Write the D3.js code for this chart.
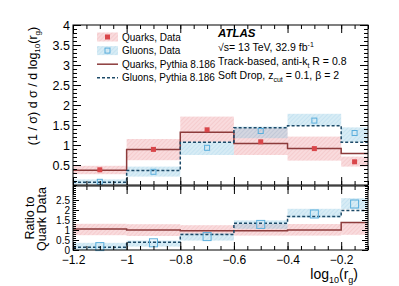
<!DOCTYPE html>
<meta charset="utf-8">
<script src="https://d3js.org/d3.v7.min.js"></script>
<style>
  body { margin: 0; background: #fff; }
  text { font-family: "Liberation Sans", Arial, sans-serif; }
</style>
<div id="chart"></div>
<script>

// bin edges in log10(r_g)
var edges = [-1.2, -1.0, -0.8, -0.6, -0.4, -0.2, -0.1];

// upper panel
var quarkData   = [0.38, 0.89, 1.38, 1.08, 0.91, 0.58];
var quarkUp     = [0.48, 1.15, 1.71, 1.42, 1.21, 0.71];
var quarkLo     = [0.27, 0.62, 1.08, 0.75, 0.61, 0.46];
var quarkMC     = [0.37, 0.89, 1.32, 1.04, 0.91, 0.79];
var gluonData   = [0.08, 0.33, 0.93, 1.35, 1.61, 1.30];
var gluonUp     = [0.14, 0.46, 1.08, 1.46, 1.78, 1.44];
var gluonLo     = [0.02, 0.21, 0.75, 1.17, 1.48, 1.08];
var gluonMC     = [0.07, 0.36, 1.07, 1.43, 1.48, 1.07];

// ratio panel
var qRatioUp    = [1.31, 1.29, 1.24, 1.30, 1.30, 1.36];
var qRatioLo    = [0.74, 0.70, 0.78, 0.72, 0.72, 0.76];
var qRatioMC    = [1.05, 1.00, 0.96, 0.96, 1.00, 1.37];
var gRatio      = [0.17, 0.36, 0.67, 1.28, 1.80, 2.30];
var gRatioUp    = [0.36, 0.47, 0.84, 1.48, 2.06, 2.59];
var gRatioLo    = [0.00, 0.17, 0.47, 1.06, 1.62, 2.04];
var gRatioMC    = [0.14, 0.39, 0.77, 1.34, 1.68, 1.97];

var xTicks = [-1.2, -1.0, -0.8, -0.6, -0.4, -0.2];
var yTopTicks = [0.5, 1, 1.5, 2, 2.5, 3, 3.5, 4];
var yBotTicks = [0, 0.5, 1, 1.5, 2, 2.5];

var W = 399, H = 286;
var left = 73, right = 368;

var svg = d3.select("#chart").append("svg")
  .attr("width", W).attr("height", H);

var x = d3.scaleLinear().domain([-1.2, -0.1]).range([left, right]);
var yTop = d3.scaleLinear().domain([0, 4]).range([185, 25]);
var yBot = d3.scaleLinear().domain([0, 3.2]).range([250, 186]);

// hatch patterns for uncertainty bands
var defs = svg.append("defs");
function hatch(id, bg, line) {
  var p = defs.append("pattern").attr("id", id)
    .attr("patternUnits", "userSpaceOnUse")
    .attr("width", 3).attr("height", 3)
    .attr("patternTransform", "rotate(45)");
  p.append("rect").attr("width", 3).attr("height", 3).attr("fill", bg);
  p.append("line").attr("x1", 0).attr("y1", 0).attr("x2", 0).attr("y2", 3)
    .attr("stroke", line).attr("stroke-width", 1);
}
hatch("hRed", "rgba(240,160,165,0.38)", "rgba(225,120,125,0.30)");
hatch("hBlue", "rgba(150,205,230,0.38)", "rgba(110,180,215,0.30)");

var redC = "#d9464a", redLine = "#8c3b3b";
var blueC = "#5aaedc", blueLine = "#1d4a68";

function steps(vals) {
  var pts = [];
  vals.forEach(function(v, i) {
    pts.push([edges[i], v]);
    pts.push([edges[i + 1], v]);
  });
  return pts;
}

function drawPanel(y, bands, lines, markers, size) {
  var g = svg.append("g");
  bands.forEach(function(b) {
    g.selectAll(null).data(b.lo).enter().append("rect")
      .attr("x", function(d, i) { return x(edges[i]); })
      .attr("width", function(d, i) { return x(edges[i + 1]) - x(edges[i]); })
      .attr("y", function(d, i) { return y(b.up[i]); })
      .attr("height", function(d, i) { return y(d) - y(b.up[i]); })
      .attr("fill", b.fill);
  });
  lines.forEach(function(l) {
    var line = d3.line().x(function(d) { return x(d[0]); }).y(function(d) { return y(d[1]); });
    g.append("path").attr("d", line(steps(l.vals)))
      .attr("fill", "none").attr("stroke", l.color).attr("stroke-width", 1.5)
      .attr("stroke-dasharray", l.dash || null);
  });
  markers.forEach(function(m) {
    g.selectAll(null).data(m.vals).enter().append("rect")
      .attr("x", function(d, i) { return x((edges[i] + edges[i + 1]) / 2) - size / 2; })
      .attr("y", function(d) { return y(d) - size / 2; })
      .attr("width", size).attr("height", size)
      .attr("fill", m.filled ? m.color : "none")
      .attr("stroke", m.filled ? "none" : m.color)
      .attr("stroke-width", 1);
  });
}

drawPanel(yTop,
  [{lo: quarkLo, up: quarkUp, fill: "url(#hRed)"}, {lo: gluonLo, up: gluonUp, fill: "url(#hBlue)"}],
  [{vals: quarkMC, color: redLine}, {vals: gluonMC, color: blueLine, dash: "3,2"}],
  [{vals: quarkData, color: redC, filled: true}, {vals: gluonData, color: blueC}], 5);

drawPanel(yBot,
  [{lo: qRatioLo, up: qRatioUp, fill: "url(#hRed)"}, {lo: gRatioLo, up: gRatioUp, fill: "url(#hBlue)"}],
  [{vals: qRatioMC, color: redLine}, {vals: gRatioMC, color: blueLine, dash: "3,2"}],
  [{vals: gRatio, color: blueC}], 8);

// axes: ticks point inward on all four sides
function axes(y, y0, y1, yMajor, yMinorStep, yLen, xLabels, ySize) {
  var xMinor = d3.range(-1.2, -0.099, 0.05);
  var yMinor = d3.range(y.domain()[0], y.domain()[1] + 1e-6, yMinorStep);
  var mk = function(axis, t, vals, len, fmt, fs) {
    var g = svg.append("g").attr("transform", t)
      .call(axis.tickValues(vals).tickSizeInner(-len).tickSizeOuter(0).tickPadding(3)
        .tickFormat(fmt || function() { return ""; }));
    g.select(".domain").remove();
    if (!fmt) g.selectAll("text").remove();
    g.selectAll("text").attr("font-size", fs || 12).attr("fill", "#000")
      .attr("font-family", "Liberation Sans, Arial, sans-serif");
    return g;
  };
  mk(d3.axisBottom(x), "translate(0," + y0 + ")", xTicks, 8, xLabels ? d3.format("") : null)
    .selectAll("text").attr("dy", "0.9em");
  mk(d3.axisBottom(x), "translate(0," + y0 + ")", xMinor, 4);
  mk(d3.axisTop(x), "translate(0," + y1 + ")", xTicks, 8);
  mk(d3.axisTop(x), "translate(0," + y1 + ")", xMinor, 4);
  mk(d3.axisLeft(y), "translate(" + left + ",0)", yMajor, yLen, d3.format(""), ySize);
  mk(d3.axisLeft(y), "translate(" + left + ",0)", yMinor, yLen / 2);
  mk(d3.axisRight(y), "translate(" + right + ",0)", yMajor, yLen);
  mk(d3.axisRight(y), "translate(" + right + ",0)", yMinor, yLen / 2);
  svg.append("rect").attr("x", left).attr("y", y1).attr("width", right - left).attr("height", y0 - y1)
    .attr("fill", "none").attr("stroke", "#000").attr("stroke-width", 1);
}
axes(yTop, 185, 25, yTopTicks, 0.1, 8, false, 12.5);
axes(yBot, 250, 186, yBotTicks, 0.1, 6, true, 10);

// axis titles
var yt = svg.append("text").attr("transform", "translate(37,86) rotate(-90)")
  .attr("text-anchor", "middle").attr("font-size", 12.5);
yt.append("tspan").text("(1 / σ) d σ / d log");
yt.append("tspan").attr("font-size", 8).attr("dy", 3).text("10");
yt.append("tspan").attr("dy", -3).text("(r");
yt.append("tspan").attr("font-size", 8).attr("dy", 3).text("g");
yt.append("tspan").attr("dy", -3).text(")");

svg.append("text").attr("transform", "translate(34,218) rotate(-90)")
  .attr("text-anchor", "middle").attr("font-size", 12.5).text("Ratio to");
svg.append("text").attr("transform", "translate(46,219) rotate(-90)")
  .attr("text-anchor", "middle").attr("font-size", 12.5).text("Quark Data");

var xt = svg.append("text").attr("x", 358).attr("y", 279)
  .attr("text-anchor", "end").attr("font-size", 14);
xt.append("tspan").text("log");
xt.append("tspan").attr("font-size", 9).attr("dy", 4).text("10");
xt.append("tspan").attr("dy", -4).text("(r");
xt.append("tspan").attr("font-size", 9).attr("dy", 4).text("g");
xt.append("tspan").attr("dy", -4).text(")");

// legend
var legend = [
  {label: "Quarks, Data", type: "qdata"},
  {label: "Gluons, Data", type: "gdata"},
  {label: "Quarks, Pythia 8.186", type: "qmc"},
  {label: "Gluons, Pythia 8.186", type: "gmc"}
];
var lg = svg.append("g");
legend.forEach(function(d, i) {
  var cy = 37 + i * 13.6;
  if (d.type === "qdata" || d.type === "gdata") {
    lg.append("rect").attr("x", 97).attr("y", cy - 4.5).attr("width", 21).attr("height", 9)
      .attr("fill", d.type === "qdata" ? "url(#hRed)" : "url(#hBlue)");
    lg.append("rect").attr("x", 105).attr("y", cy - 2.5).attr("width", 5).attr("height", 5)
      .attr("fill", d.type === "qdata" ? redC : "none")
      .attr("stroke", d.type === "qdata" ? "none" : blueC);
  } else {
    lg.append("line").attr("x1", 97).attr("x2", 118).attr("y1", cy).attr("y2", cy)
      .attr("stroke", d.type === "qmc" ? redLine : blueLine).attr("stroke-width", 1.5)
      .attr("stroke-dasharray", d.type === "gmc" ? "3,2" : null);
  }
  lg.append("text").attr("x", 122).attr("y", cy + 3.6).attr("font-size", 10).text(d.label);
});

// ATLAS label block
svg.append("text").attr("x", 218).attr("y", 37).attr("font-size", 11.5)
  .attr("font-weight", "bold").attr("font-style", "italic").text("ATLAS");
var t1 = svg.append("text").attr("x", 218).attr("y", 51).attr("font-size", 10.5);
t1.append("tspan").text("√s= 13 TeV, 32.9 fb");
t1.append("tspan").attr("font-size", 7).attr("dy", -4).text("-1");
var t2 = svg.append("text").attr("x", 218).attr("y", 65).attr("font-size", 10.5);
t2.append("tspan").text("Track-based, anti-k");
t2.append("tspan").attr("font-size", 7).attr("dy", 3).text("t");
t2.append("tspan").attr("dy", -3).text(" R = 0.8");
var t3 = svg.append("text").attr("x", 218).attr("y", 79).attr("font-size", 10.5);
t3.append("tspan").text("Soft Drop, z");
t3.append("tspan").attr("font-size", 7).attr("dy", 3).text("cut");
t3.append("tspan").attr("dy", -3).text(" = 0.1, β = 2");

</script>
